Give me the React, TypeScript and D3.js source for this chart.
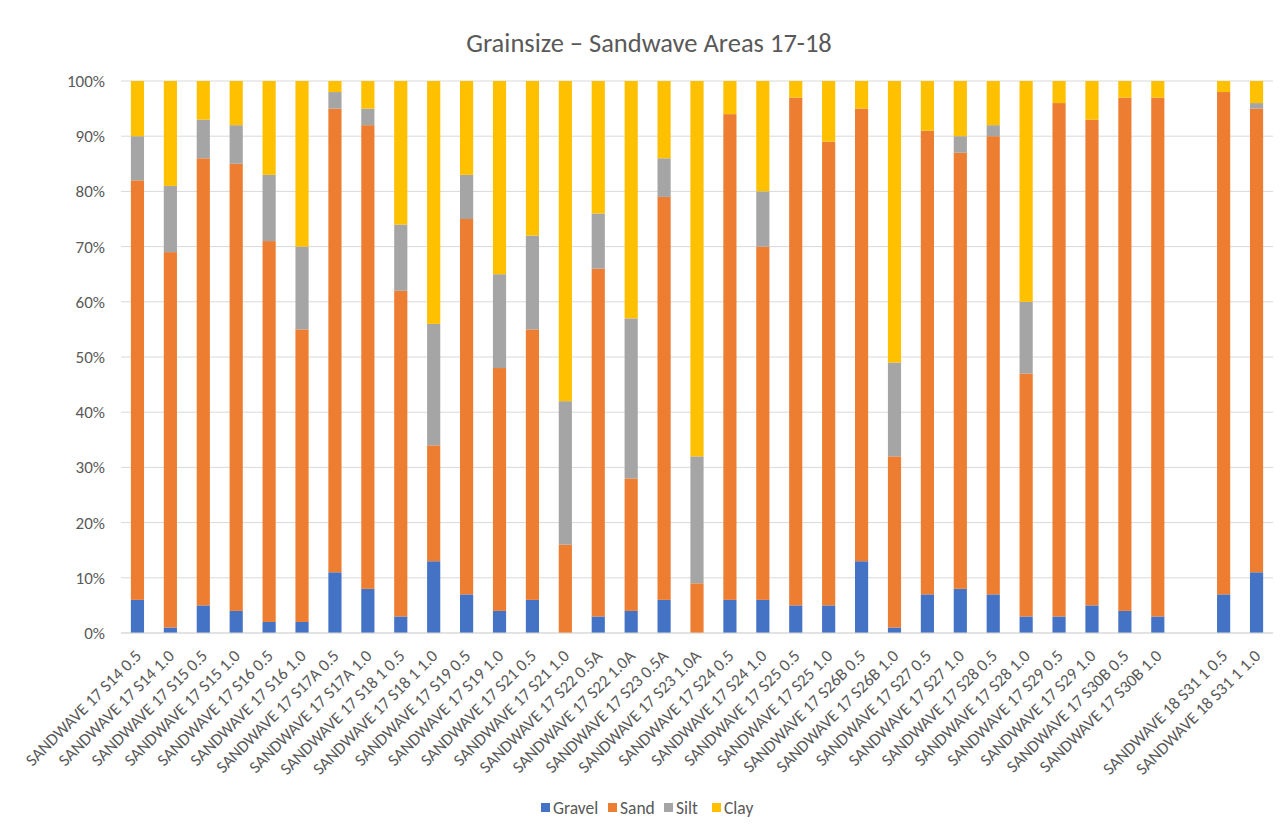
import React from "react";
import * as d3 from "d3";

const categories: string[] = [
  "SANDWAVE 17 S14 0.5", "SANDWAVE 17 S14 1.0", "SANDWAVE 17 S15 0.5", "SANDWAVE 17 S15 1.0",
  "SANDWAVE 17 S16 0.5", "SANDWAVE 17 S16 1.0", "SANDWAVE 17 S17A 0.5", "SANDWAVE 17 S17A 1.0",
  "SANDWAVE 17 S18 1 0.5", "SANDWAVE 17 S18 1 1.0", "SANDWAVE 17 S19 0.5", "SANDWAVE 17 S19 1.0",
  "SANDWAVE 17 S21 0.5", "SANDWAVE 17 S21 1.0", "SANDWAVE 17 S22 0.5A", "SANDWAVE 17 S22 1.0A",
  "SANDWAVE 17 S23 0.5A", "SANDWAVE 17 S23 1.0A", "SANDWAVE 17 S24 0.5", "SANDWAVE 17 S24 1.0",
  "SANDWAVE 17 S25 0.5", "SANDWAVE 17 S25 1.0", "SANDWAVE 17 S26B 0.5", "SANDWAVE 17 S26B 1.0",
  "SANDWAVE 17 S27 0.5", "SANDWAVE 17 S27 1.0", "SANDWAVE 17 S28 0.5", "SANDWAVE 17 S28 1.0",
  "SANDWAVE 17 S29 0.5", "SANDWAVE 17 S29 1.0", "SANDWAVE 17 S30B 0.5", "SANDWAVE 17 S30B 1.0",
  "",
  "SANDWAVE 18 S31 1 0.5", "SANDWAVE 18 S31 1 1.0",
];

// Percent by weight for each sample (empty slot separates area 17 from area 18)
const gravel: number[] = [6, 1, 5, 4, 2, 2, 11, 8, 3, 13, 7, 4, 6, 0, 3, 4, 6, 0, 6, 6, 5, 5, 13, 1, 7, 8, 7, 3, 3, 5, 4, 3, 0, 7, 11];
const sand: number[] = [76, 68, 81, 81, 69, 53, 84, 84, 59, 21, 68, 44, 49, 16, 63, 24, 73, 9, 88, 64, 92, 84, 82, 31, 84, 79, 83, 44, 93, 88, 93, 94, 0, 91, 84];
const silt: number[] = [8, 12, 7, 7, 12, 15, 3, 3, 12, 22, 8, 17, 17, 26, 10, 29, 7, 23, 0, 10, 0, 0, 0, 17, 0, 3, 2, 13, 0, 0, 0, 0, 0, 0, 1];
const clay: number[] = [10, 19, 7, 8, 17, 30, 2, 5, 26, 44, 17, 35, 28, 58, 24, 43, 14, 68, 6, 20, 3, 11, 5, 51, 9, 10, 8, 40, 4, 7, 3, 3, 0, 2, 4];

const seriesNames = ["Gravel", "Sand", "Silt", "Clay"];
const seriesColors = ["#4472C4", "#ED7D31", "#A5A5A5", "#FFC000"];
const yTicks = [0, 0.1, 0.2, 0.3, 0.4, 0.5, 0.6, 0.7, 0.8, 0.9, 1];

const W = 1285;
const H = 830;
const margin = { left: 121, right: 12, top: 81, bottom: 197 };
const FONT = "Calibri, Carlito, 'Open Sans', sans-serif";
const TEXT = "#595959";

export default function App() {
  const rows = categories.map((c, i) => {
    const total = gravel[i] + sand[i] + silt[i] + clay[i];
    return {
      key: String(i),
      label: c,
      total,
      Gravel: total ? gravel[i] / total : 0,
      Sand: total ? sand[i] / total : 0,
      Silt: total ? silt[i] / total : 0,
      Clay: total ? clay[i] / total : 0,
    };
  });

  const x = d3
    .scaleBand<string>()
    .domain(rows.map((r) => r.key))
    .range([margin.left, W - margin.right])
    .paddingInner(0.6)
    .paddingOuter(0.3);
  const y = d3.scaleLinear().domain([0, 1]).range([H - margin.bottom, margin.top]);

  const stacked = d3.stack<any>().keys(seriesNames)(rows);
  const pct = d3.format(".0%");

  // legend swatch x positions
  const legendX = [541, 608, 664, 712];
  const legendY = 814;

  return (
    <svg width={W} height={H} style={{ display: "block", margin: -8 }} fontFamily={FONT}>
      <rect width={W} height={H} fill="#ffffff" />
      <text x={649} y={52} textAnchor="middle" fontSize={26.5} fill={TEXT}>
        Grainsize – Sandwave Areas 17-18
      </text>

      {yTicks.map((t) => (
        <g key={t}>
          <line x1={margin.left} x2={W - margin.right} y1={y(t)} y2={y(t)} stroke="#D9D9D9" strokeWidth={1} />
          <text x={105} y={y(t)} dy="0.35em" textAnchor="end" fontSize={17} fill={TEXT}>
            {pct(t)}
          </text>
        </g>
      ))}

      {stacked.map((layer, si) => (
        <g key={layer.key} fill={seriesColors[si]}>
          {layer.map((d, i) =>
            rows[i].total ? (
              <rect
                key={i}
                x={x(rows[i].key)}
                width={x.bandwidth()}
                y={y(d[1])}
                height={Math.max(0, y(d[0]) - y(d[1]))}
              />
            ) : null
          )}
        </g>
      ))}

      <line x1={margin.left} x2={W - margin.right} y1={y(0)} y2={y(0)} stroke="#D9D9D9" strokeWidth={1} />

      {rows.map((r) => {
        const cx = (x(r.key) as number) + x.bandwidth() / 2;
        const ty = y(0) + 24;
        return (
          <text
            key={r.key}
            transform={`translate(${cx + 5},${ty}) rotate(-45)`}
            textAnchor="end"
            fontSize={17}
            fill={TEXT}
          >
            {r.label}
          </text>
        );
      })}

      {seriesNames.map((s, i) => (
        <g key={s} transform={`translate(${legendX[i]},${legendY})`}>
          <rect x={0} y={-11} width={9} height={9} fill={seriesColors[i]} />
          <text x={12} y={0} fontSize={17.5} fill={TEXT}>
            {s}
          </text>
        </g>
      ))}
    </svg>
  );
}
